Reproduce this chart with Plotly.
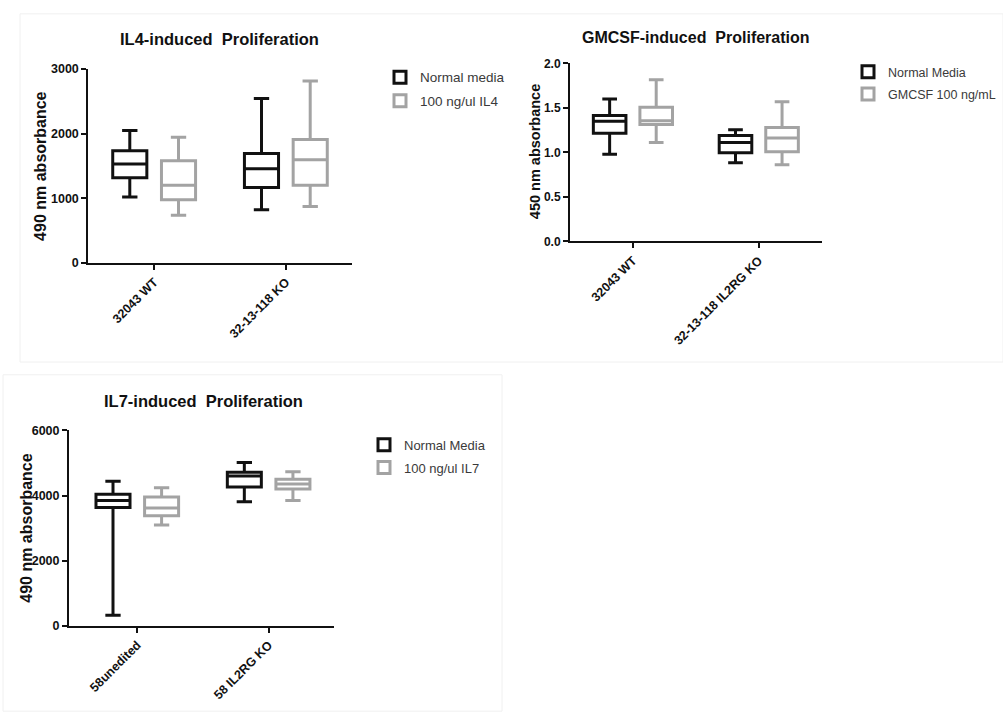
import plotly.graph_objects as go

W, H = 1003, 726
FONT = "Liberation Sans, Arial, sans-serif"

# ---------------- data ----------------
il4_groups = ["32043 WT", "32-13-118 KO"]
il4_normal_q1 = [1318, 1167]
il4_normal_med = [1530, 1455]
il4_normal_q3 = [1732, 1692]
il4_normal_lo = [1020, 823]
il4_normal_hi = [2045, 2540]
il4_treat_q1 = [975, 1202]
il4_treat_med = [1202, 1595]
il4_treat_q3 = [1580, 1909]
il4_treat_lo = [738, 874]
il4_treat_hi = [1944, 2813]

gm_groups = ["32043 WT", "32-13-118 IL2RG KO"]
gm_normal_q1 = [1.216, 0.996]
gm_normal_med = [1.35, 1.11]
gm_normal_q3 = [1.415, 1.19]
gm_normal_lo = [0.98, 0.885]
gm_normal_hi = [1.60, 1.253]
gm_treat_q1 = [1.312, 1.007]
gm_treat_med = [1.356, 1.161]
gm_treat_q3 = [1.507, 1.279]
gm_treat_lo = [1.11, 0.86]
gm_treat_hi = [1.816, 1.57]

il7_groups = ["58unedited", "58 IL2RG KO"]
il7_normal_q1 = [3630, 4261]
il7_normal_med = [3850, 4602]
il7_normal_q3 = [4042, 4713]
il7_normal_lo = [322, 3810]
il7_normal_hi = [4442, 5013]
il7_treat_q1 = [3380, 4201]
il7_treat_med = [3621, 4352]
il7_treat_q3 = [3952, 4502]
il7_treat_lo = [3098, 3850]
il7_treat_hi = [4241, 4733]

BLACK = "#111111"
GRAY = "#a3a3a3"

fig = go.Figure()


def add_box(name, groups, q1, med, q3, lo, hi, color, xa, ya, legend, og, lg):
    fig.add_trace(go.Box(
        name=name, x=groups, q1=q1, median=med, q3=q3,
        lowerfence=lo, upperfence=hi, boxpoints=False,
        line=dict(color=color, width=3), fillcolor="white",
        whiskerwidth=0.45, xaxis=xa, yaxis=ya, legend=legend,
        offsetgroup=og, legendgroup=lg, hoverinfo="skip",
    ))


add_box("Normal media", il4_groups, il4_normal_q1, il4_normal_med, il4_normal_q3,
        il4_normal_lo, il4_normal_hi, BLACK, "x", "y", "legend", "a", "g1")
add_box("100 ng/ul IL4", il4_groups, il4_treat_q1, il4_treat_med, il4_treat_q3,
        il4_treat_lo, il4_treat_hi, GRAY, "x", "y", "legend", "b", "g2")

add_box("Normal Media", gm_groups, gm_normal_q1, gm_normal_med, gm_normal_q3,
        gm_normal_lo, gm_normal_hi, BLACK, "x2", "y2", "legend2", "a", "g3")
add_box("GMCSF 100 ng/mL", gm_groups, gm_treat_q1, gm_treat_med, gm_treat_q3,
        gm_treat_lo, gm_treat_hi, GRAY, "x2", "y2", "legend2", "b", "g4")

add_box("Normal Media", il7_groups, il7_normal_q1, il7_normal_med, il7_normal_q3,
        il7_normal_lo, il7_normal_hi, BLACK, "x3", "y3", "legend3", "a", "g5")
add_box("100 ng/ul IL7", il7_groups, il7_treat_q1, il7_treat_med, il7_treat_q3,
        il7_treat_lo, il7_treat_hi, GRAY, "x3", "y3", "legend3", "b", "g6")


def px_x(p):
    return p / W


def px_y(p):
    return 1 - p / H


axis_common = dict(showline=True, linecolor=BLACK, linewidth=2, ticks="outside",
                   ticklen=5, tickwidth=2, tickcolor=BLACK, showgrid=False,
                   zeroline=False, mirror=False)

xt = dict(tickangle=-45, tickfont=dict(family=FONT, size=12.5, color=BLACK, weight="bold"))
yt = dict(tickfont=dict(family=FONT, size=12.5, color=BLACK, weight="bold"))

leg_common = dict(xanchor="left", yanchor="top", bgcolor="rgba(0,0,0,0)", tracegroupgap=3)

layout = dict(
    width=W, height=H, margin=dict(l=0, r=0, t=0, b=0),
    paper_bgcolor="white", plot_bgcolor="white",
    boxmode="group", boxgap=0.26, boxgroupgap=0.30,
    font=dict(family=FONT),
    xaxis=dict(domain=[px_x(88.3), px_x(351.7)], range=[-0.5, 1.5], anchor="y", **axis_common, **xt),
    yaxis=dict(domain=[px_y(261), px_y(63)], range=[0, 3000], dtick=1000, anchor="x", **axis_common, **yt),
    xaxis2=dict(domain=[px_x(570), px_x(821.7)], range=[-0.5, 1.5], anchor="y2", **axis_common, **xt),
    yaxis2=dict(domain=[px_y(239), px_y(57.5)], range=[0, 2.0], dtick=0.5, tickformat=".1f",
                anchor="x2", **axis_common,
                tickfont=dict(family=FONT, size=12, color=BLACK, weight="bold")),
    xaxis3=dict(domain=[px_x(69), px_x(334.3)], range=[-0.52, 1.5], anchor="y3", **axis_common, **xt),
    yaxis3=dict(domain=[px_y(631), px_y(431.7)], range=[0, 6000], dtick=2000, anchor="x3", **axis_common, **yt),
    legend=dict(x=px_x(380), y=px_y(56),
                font=dict(family=FONT, size=13.5, color="#3a3a3a"), **leg_common),
    legend2=dict(x=px_x(848), y=px_y(51),
                 font=dict(family=FONT, size=12.5, color="#3a3a3a"), **leg_common),
    legend3=dict(x=px_x(364), y=px_y(431),
                 font=dict(family=FONT, size=13, color="#3a3a3a"), **leg_common),
)
fig.update_layout(**layout)

# titles
titles = [
    ("IL4-induced\u00a0 Proliferation", 219, 33, 16.5),
    ("GMCSF-induced\u00a0 Proliferation", 696, 31, 16),
    ("IL7-induced\u00a0 Proliferation", 203, 402, 16.5),
]
for txt, x, y, s in titles:
    fig.add_annotation(text=txt, x=px_x(x), y=px_y(y), xref="paper", yref="paper",
                       showarrow=False, xanchor="center", yanchor="middle",
                       font=dict(family=FONT, size=s, color=BLACK, weight="bold"))

ytitles = [
    ("490 nm absorbance", 41, 162, 16),
    ("450 nm absorbance", 535, 148, 14.5),
    ("490 nm absorbance", 27, 531, 16),
]
for txt, x, y, s in ytitles:
    fig.add_annotation(text=txt, x=px_x(x), y=px_y(y), xref="paper", yref="paper",
                       showarrow=False, xanchor="center", yanchor="middle", textangle=-90,
                       font=dict(family=FONT, size=s, color=BLACK, weight="bold"))

# faint panel frames
frames = [(20, 7, 1003, 362), (3, 375, 502, 718)]
for x0, y0, x1, y1 in frames:
    fig.add_shape(type="rect", xref="paper", yref="paper",
                  x0=px_x(x0), x1=px_x(x1), y0=px_y(y1), y1=px_y(y0),
                  line=dict(color="#f0f0f0", width=1), layer="below")

fig.write_html("out.html")
